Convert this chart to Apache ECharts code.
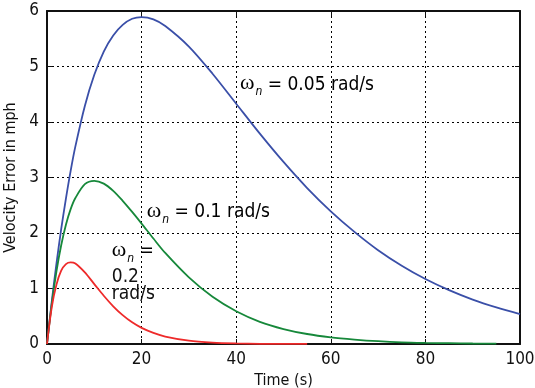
<!DOCTYPE html>
<html><head><meta charset="utf-8">
<script src="https://cdn.jsdelivr.net/npm/echarts@6/dist/echarts.min.js"></script>
<style>html,body{margin:0;padding:0;background:#fff}#c{width:535px;height:388px}</style>
</head><body><div id="c"></div>
<script>
// Time samples (s)
var times = [0,1,2,3,4,5,6,8,10,12,14,16,18,20,22.5,25,30,35,40,45,50,55,60,65,70,75,80,85,90,95,100];
// Velocity error (mph)
var wn005 = [0,0.76,1.45,2.07,2.62,3.12,3.56,4.29,4.85,5.27,5.56,5.75,5.86,5.89,5.85,5.73,5.36,4.87,4.33,3.79,3.28,2.81,2.39,2.02,1.69,1.41,1.17,0.97,0.80,0.66,0.54];
var wn01  = [0,0.72,1.31,1.78,2.15,2.43,2.63,2.88,2.94,2.89,2.76,2.58,2.38,2.17,1.90,1.64,1.20,0.85,0.59,0.40,0.27,0.18,0.12,0.08,0.05,0.03,0.02,0.014,0.009,0.006];
var wn02  = [0,0.66,1.07,1.32,1.44,1.47,1.45,1.29,1.08,0.87,0.68,0.52,0.39,0.29,0.20,0.135,0.06,0.026,0.011,0.004,0.001,0.0005];
var xTicks = [0,20,40,60,80,100];
var yTicks = [0,1,2,3,4,5,6];
var seriesNames = ['ωn = 0.05 rad/s','ωn = 0.1 rad/s','ωn = 0.2 rad/s'];
var seriesColors = ['#3a4fa8','#16883a','#ee2a2a'];
// label anchors in data coordinates [t, v]
var labelAnchors = [[40.8,4.68],[21.1,2.38],[13.7,1.68]];
var labelFirst = [' = 0.05 rad/s',' = 0.1 rad/s',' ='];
var labelRest = ['','','0.2\nrad/s'];

function pairs(vals){ return vals.map(function(v,i){ return [times[i], v]; }); }

var FONT = '"Liberation Sans Narrow","DejaVu Sans Condensed","Liberation Sans",sans-serif';
var chart = echarts.init(document.getElementById('c'));
var gridStyle = {show:true,lineStyle:{color:'#000',type:[2,3],width:1}};
var option = {
  animation:false,
  grid:{left:47,right:15,top:11,bottom:44,containLabel:false,outerBoundsMode:'none'},
  xAxis:[{
    type:'value',min:xTicks[0],max:xTicks[xTicks.length-1],interval:20,
    name:'Time (s)',nameLocation:'middle',nameGap:26,
    nameTextStyle:{fontFamily:FONT,fontSize:16,color:'#111'},
    axisLine:{lineStyle:{color:'#111',width:2}},
    axisTick:{inside:true,length:5,lineStyle:{color:'#111'}},
    axisLabel:{fontFamily:FONT,fontSize:17,color:'#111',margin:7},
    splitLine:gridStyle
  },{
    type:'value',position:'top',min:0,max:100,interval:20,
    axisLine:{show:true,onZero:false,lineStyle:{color:'#111',width:2}},
    axisTick:{inside:true,length:5,lineStyle:{color:'#111'}},
    axisLabel:{show:false},splitLine:{show:false}
  }],
  yAxis:[{
    type:'value',min:yTicks[0],max:yTicks[yTicks.length-1],interval:1,
    name:'Velocity Error in mph',nameLocation:'middle',nameGap:28,nameRotate:90,
    nameTextStyle:{fontFamily:FONT,fontSize:16,color:'#111'},
    axisLine:{show:true,lineStyle:{color:'#111',width:2}},
    axisTick:{show:true,inside:true,length:5,lineStyle:{color:'#111'}},
    axisLabel:{fontFamily:FONT,fontSize:17,color:'#111',margin:8},
    splitLine:gridStyle
  },{
    type:'value',position:'right',min:0,max:6,interval:1,
    axisLine:{show:true,onZero:false,lineStyle:{color:'#111',width:2}},
    axisTick:{show:true,inside:true,length:5,lineStyle:{color:'#111'}},
    axisLabel:{show:false},splitLine:{show:false}
  }],
  series:[wn005,wn01,wn02].map(function(vals,i){
    return {type:'line',name:seriesNames[i],data:pairs(vals),smooth:0.3,showSymbol:false,
      lineStyle:{color:seriesColors[i],width:1.8},itemStyle:{color:seriesColors[i]},z:3};
  })
};
chart.setOption(option);

var rich = {
  w:{fontFamily:'"Liberation Serif","DejaVu Serif",serif',fontSize:22,padding:[0,0,4,0],verticalAlign:'bottom',lineHeight:28,color:'#111'},
  n:{fontFamily:FONT,fontStyle:'italic',fontSize:12,verticalAlign:'bottom',lineHeight:28,padding:[0,0,0,1],color:'#111'},
  t:{fontFamily:FONT,fontSize:19,padding:[0,0,4,0],verticalAlign:'bottom',lineHeight:28,color:'#111'}
};
var elems = [];
labelAnchors.forEach(function(a,i){
  var p = chart.convertToPixel({xAxisIndex:0,yAxisIndex:0}, a);
  elems.push({type:'text',x:p[0],y:p[1]-14,
    style:{text:'{w|ω}{n|n}{t|' + labelFirst[i] + '}',rich:rich,align:'left',verticalAlign:'top'},z:10});
  if (labelRest[i]) {
    elems.push({type:'text',x:p[0],y:p[1]+18,
      style:{text:labelRest[i],fontFamily:FONT,fontSize:19,lineHeight:17,fill:'#111',align:'left',verticalAlign:'top'},z:10});
  }
});
chart.setOption({graphic:elems});
</script></body></html>
